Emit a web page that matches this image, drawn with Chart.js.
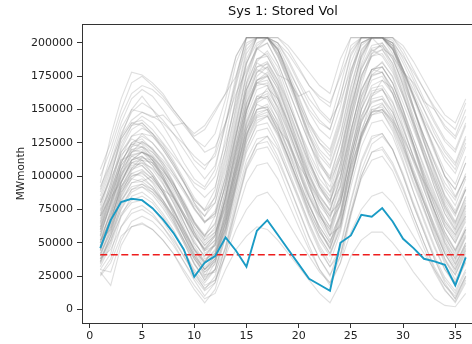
<!DOCTYPE html>
<html>
<head>
<meta charset="utf-8">
<script src="https://cdn.jsdelivr.net/npm/chart.js@4.4.1/dist/chart.umd.min.js"></script>
<style>
    html, body { margin: 0; padding: 0; background: #fff; overflow: hidden; }
    #wrap { width: 490px; height: 344px; }
</style>
</head>
<body>
<div id="wrap"><canvas id="storedChart" width="490" height="344"></canvas></div>
<script>
// Dados do gráfico
const months = [1,2,3,4,5,6,7,8,9,10,11,12,13,14,15,16,17,18,19,20,21,22,23,24,25,26,27,28,29,30,31,32,33,34,35,36];
const xTickValues = [0,5,10,15,20,25,30,35];
const yTickValues = [0,25000,50000,75000,100000,125000,150000,175000,200000];

// Traço destacado (azul)
const selectedRun = [46000,67000,80500,83000,82000,76000,67500,57500,45000,24500,35000,40000,54000,44000,32000,59000,67000,56000,45000,34000,23000,18500,14000,50000,55500,71000,69500,76000,66000,53000,46000,38000,36000,33500,18000,39000];

// Nível mínimo (linha vermelha tracejada)
const minLevel = 41000;

// Cenários (linhas cinzas)
const ensembleRuns = [
    [105000,125000,150000,170000,175000,168000,160000,150000,140000,132000,138000,150000,162000,190000,204000,204000,204000,200000,192000,180000,168000,160000,155000,175000,195000,204000,204000,204000,200000,190000,178000,165000,152000,142000,135000,155000],
    [80000,100000,130000,150000,160000,150000,138000,125000,110000,98000,92000,105000,140000,175000,204000,204000,204000,195000,180000,165000,150000,140000,135000,160000,190000,204000,204000,204000,195000,180000,165000,150000,135000,120000,110000,130000],
    [60000,85000,110000,125000,128000,120000,108000,95000,80000,65000,55000,70000,100000,140000,175000,195000,200000,185000,165000,145000,125000,110000,100000,125000,160000,190000,204000,204000,200000,180000,160000,140000,120000,100000,85000,100000],
    [45000,70000,95000,112000,115000,108000,95000,80000,62000,45000,35000,50000,80000,115000,150000,170000,175000,160000,140000,120000,100000,85000,75000,100000,135000,165000,180000,185000,175000,155000,135000,115000,95000,75000,60000,78000],
    [35000,55000,85000,100000,103000,95000,82000,68000,52000,35000,22000,35000,65000,100000,135000,155000,160000,145000,125000,105000,85000,68000,55000,80000,115000,145000,160000,165000,155000,135000,115000,95000,75000,55000,40000,58000],
    [50000,75000,105000,120000,118000,110000,98000,85000,70000,55000,45000,55000,90000,130000,165000,185000,180000,165000,145000,125000,105000,90000,80000,110000,150000,180000,195000,190000,178000,160000,140000,120000,100000,82000,70000,90000],
    [30000,42000,70000,85000,88000,82000,72000,60000,45000,28000,15000,25000,55000,90000,120000,140000,145000,130000,110000,90000,70000,52000,40000,62000,100000,130000,150000,152000,140000,120000,100000,80000,58000,38000,22000,40000],
    [70000,95000,120000,135000,140000,132000,120000,108000,95000,80000,70000,85000,120000,160000,195000,204000,204000,195000,178000,160000,140000,125000,115000,140000,175000,200000,204000,204000,198000,180000,160000,140000,120000,100000,90000,110000],
    [55000,80000,105000,115000,112000,102000,90000,75000,58000,42000,30000,40000,75000,110000,145000,165000,168000,152000,132000,112000,92000,75000,62000,88000,125000,155000,172000,175000,162000,142000,120000,98000,78000,58000,45000,62000],
    [40000,62000,90000,105000,108000,100000,88000,72000,55000,38000,25000,38000,70000,108000,142000,160000,158000,140000,120000,98000,78000,60000,45000,72000,110000,140000,158000,160000,148000,128000,105000,85000,62000,42000,28000,45000],
    [75000,100000,128000,140000,142000,135000,125000,115000,105000,95000,90000,100000,125000,155000,185000,200000,204000,192000,175000,158000,140000,128000,120000,145000,178000,200000,204000,204000,195000,178000,160000,142000,128000,115000,105000,125000],
    [65000,88000,112000,122000,125000,118000,108000,95000,80000,65000,52000,62000,95000,135000,170000,188000,190000,175000,155000,135000,115000,98000,88000,115000,152000,182000,198000,200000,188000,168000,145000,125000,105000,85000,72000,90000],
    [28000,18000,48000,62000,65000,60000,52000,42000,28000,15000,5000,15000,42000,75000,105000,120000,122000,108000,88000,68000,48000,30000,18000,35000,70000,100000,118000,120000,108000,90000,70000,50000,30000,15000,5000,20000],
    [90000,115000,140000,158000,165000,160000,150000,138000,125000,112000,105000,118000,150000,185000,204000,204000,204000,200000,188000,172000,158000,148000,140000,168000,198000,204000,204000,204000,204000,192000,175000,158000,142000,128000,120000,140000],
    [50000,68000,90000,100000,102000,96000,86000,74000,60000,46000,36000,45000,72000,105000,135000,150000,152000,138000,120000,102000,84000,70000,60000,82000,115000,142000,155000,158000,148000,130000,112000,92000,74000,56000,44000,60000],
    [45000,65000,95000,112000,118000,115000,105000,92000,78000,62000,50000,58000,82000,118000,155000,178000,185000,172000,152000,130000,110000,92000,80000,105000,142000,172000,190000,195000,185000,165000,142000,120000,98000,78000,62000,80000],
    [38000,55000,75000,88000,92000,88000,80000,70000,58000,45000,35000,42000,65000,95000,125000,142000,145000,132000,115000,95000,78000,62000,50000,72000,105000,132000,148000,150000,140000,122000,102000,82000,64000,46000,34000,50000],
    [85000,108000,132000,148000,155000,150000,142000,132000,120000,108000,98000,108000,138000,172000,204000,204000,204000,198000,182000,165000,148000,135000,128000,152000,185000,204000,204000,204000,200000,185000,168000,150000,132000,118000,108000,128000],
    [60000,82000,108000,118000,120000,112000,100000,85000,70000,55000,45000,52000,85000,122000,158000,178000,182000,168000,148000,128000,108000,92000,82000,108000,145000,175000,192000,195000,182000,162000,140000,118000,98000,78000,65000,85000],
    [52000,72000,98000,110000,112000,105000,94000,80000,65000,50000,40000,48000,78000,115000,150000,168000,170000,155000,135000,115000,95000,78000,68000,92000,128000,158000,175000,178000,165000,145000,124000,103000,84000,64000,52000,70000],
    [42000,60000,82000,95000,96000,90000,80000,68000,52000,38000,28000,36000,62000,98000,130000,148000,150000,135000,115000,95000,75000,58000,48000,70000,105000,135000,152000,155000,142000,122000,100000,80000,60000,42000,30000,48000],
    [70000,92000,118000,130000,132000,125000,115000,102000,90000,78000,70000,80000,112000,150000,185000,204000,204000,192000,172000,152000,132000,118000,108000,132000,168000,195000,204000,204000,196000,178000,158000,138000,118000,100000,90000,110000],
    [32000,48000,72000,82000,85000,80000,70000,58000,44000,30000,20000,30000,58000,92000,122000,138000,140000,125000,105000,85000,65000,48000,35000,58000,92000,122000,140000,142000,130000,110000,88000,68000,48000,30000,18000,35000],
    [55000,78000,102000,118000,122000,118000,110000,100000,88000,75000,65000,72000,98000,132000,165000,182000,186000,172000,155000,136000,118000,102000,92000,118000,152000,180000,196000,198000,188000,170000,150000,130000,112000,95000,84000,100000],
    [48000,70000,95000,108000,110000,102000,90000,76000,60000,44000,32000,40000,68000,102000,138000,158000,160000,146000,126000,106000,86000,70000,58000,80000,115000,145000,162000,165000,152000,132000,110000,90000,70000,50000,38000,55000],
    [100000,120000,145000,162000,168000,165000,158000,148000,138000,128000,122000,132000,158000,190000,204000,204000,204000,204000,195000,182000,168000,158000,152000,178000,204000,204000,204000,204000,204000,195000,180000,165000,150000,138000,130000,150000],
    [62000,85000,110000,125000,130000,125000,116000,104000,90000,76000,65000,74000,105000,142000,178000,196000,200000,185000,165000,145000,125000,108000,98000,125000,162000,190000,204000,204000,195000,175000,152000,130000,110000,90000,78000,98000],
    [36000,52000,80000,95000,98000,92000,82000,70000,55000,40000,30000,38000,65000,100000,132000,150000,152000,138000,118000,98000,78000,62000,50000,74000,110000,140000,156000,158000,145000,125000,103000,82000,62000,44000,32000,50000],
    [58000,80000,100000,112000,115000,108000,97000,84000,70000,56000,46000,55000,85000,120000,155000,172000,175000,160000,140000,120000,100000,84000,74000,98000,134000,164000,180000,182000,170000,150000,128000,108000,88000,68000,56000,74000],
    [78000,102000,125000,138000,140000,132000,122000,110000,96000,82000,74000,84000,115000,152000,188000,204000,204000,190000,170000,150000,130000,115000,106000,130000,166000,194000,204000,204000,192000,172000,150000,130000,110000,92000,82000,102000],
    [44000,64000,88000,102000,105000,98000,88000,75000,60000,45000,34000,42000,70000,106000,140000,158000,162000,148000,128000,108000,88000,72000,60000,84000,120000,150000,166000,168000,156000,136000,114000,94000,74000,54000,42000,60000],
    [68000,88000,108000,120000,122000,116000,106000,92000,78000,64000,55000,65000,95000,130000,165000,182000,184000,170000,150000,130000,110000,95000,85000,110000,146000,176000,190000,192000,180000,160000,138000,116000,96000,76000,64000,82000],
    [26000,38000,62000,75000,78000,72000,62000,50000,36000,22000,10000,20000,48000,82000,112000,128000,130000,115000,95000,75000,55000,38000,25000,48000,82000,112000,130000,132000,120000,100000,78000,58000,38000,20000,8000,25000],
    [92000,110000,130000,142000,148000,145000,140000,132000,124000,115000,108000,115000,140000,170000,200000,204000,204000,200000,186000,170000,154000,142000,135000,160000,192000,204000,204000,204000,202000,188000,172000,155000,140000,126000,118000,138000],
    [40000,58000,82000,92000,94000,88000,78000,66000,52000,38000,28000,34000,60000,95000,128000,145000,148000,134000,114000,94000,74000,58000,46000,68000,102000,132000,148000,150000,138000,118000,96000,76000,56000,38000,26000,44000],
    [72000,95000,122000,138000,145000,140000,130000,118000,105000,92000,84000,92000,120000,158000,192000,204000,204000,195000,176000,156000,136000,120000,112000,138000,174000,200000,204000,204000,198000,180000,160000,140000,122000,104000,94000,115000],
    [50000,74000,100000,115000,118000,112000,102000,88000,72000,56000,44000,52000,82000,118000,152000,170000,172000,158000,138000,118000,98000,82000,70000,94000,130000,160000,176000,178000,166000,146000,124000,102000,82000,62000,50000,68000],
    [34000,50000,76000,90000,92000,86000,76000,64000,50000,34000,22000,30000,58000,94000,126000,144000,146000,132000,112000,92000,72000,55000,42000,64000,98000,128000,146000,148000,136000,116000,94000,74000,54000,34000,20000,38000],
    [82000,105000,128000,140000,138000,130000,120000,108000,95000,82000,75000,90000,130000,168000,198000,204000,204000,190000,172000,155000,138000,125000,118000,142000,178000,204000,204000,204000,196000,180000,162000,145000,128000,112000,102000,122000],
    [46000,68000,92000,106000,110000,106000,98000,86000,72000,58000,48000,56000,84000,120000,154000,172000,176000,162000,142000,122000,102000,86000,74000,98000,134000,164000,180000,182000,170000,150000,128000,106000,86000,66000,54000,72000],
    [25000,35000,55000,62000,64000,60000,52000,42000,30000,18000,8000,12000,30000,45000,55000,62000,60000,52000,42000,32000,22000,12000,5000,20000,40000,52000,58000,58000,50000,40000,28000,18000,8000,3000,2000,12000],
    [38000,45000,62000,72000,75000,70000,62000,52000,40000,28000,18000,22000,40000,60000,75000,85000,88000,78000,65000,52000,40000,28000,20000,35000,58000,75000,85000,88000,80000,68000,55000,42000,30000,18000,10000,25000],
    [30000,28000,52000,66000,70000,66000,58000,48000,36000,24000,14000,20000,42000,70000,95000,108000,110000,98000,80000,62000,45000,30000,20000,40000,72000,98000,112000,115000,104000,86000,66000,46000,28000,14000,6000,22000],
    [95000,130000,158000,178000,176000,170000,162000,150000,140000,130000,135000,148000,162000,175000,204000,204000,204000,204000,198000,188000,178000,168000,162000,188000,204000,204000,204000,204000,204000,198000,186000,172000,158000,146000,140000,158000],
    [58000,78000,100000,118000,126000,121000,110000,96000,78000,58000,42000,48000,68000,105000,148000,175000,182000,168000,146000,120000,95000,72000,55000,70000,112000,150000,178000,186000,174000,150000,124000,98000,74000,52000,38000,56000],
    [66000,92000,118000,128000,124000,114000,100000,84000,66000,48000,36000,44000,72000,112000,150000,170000,168000,150000,128000,104000,80000,60000,46000,66000,108000,142000,164000,166000,150000,126000,100000,76000,54000,36000,26000,42000],
    [42000,58000,86000,104000,112000,110000,100000,86000,70000,52000,38000,42000,60000,92000,130000,156000,166000,158000,140000,118000,94000,72000,56000,62000,96000,132000,160000,172000,166000,146000,122000,96000,72000,50000,34000,48000],
    [74000,90000,112000,116000,118000,114000,104000,94000,82000,66000,54000,60000,88000,128000,170000,196000,204000,196000,176000,152000,126000,104000,88000,104000,146000,184000,204000,204000,200000,178000,152000,126000,102000,80000,66000,84000],
    [52000,66000,92000,102000,100000,92000,80000,66000,50000,34000,24000,30000,54000,86000,118000,134000,136000,122000,102000,82000,62000,44000,32000,46000,80000,110000,128000,132000,120000,100000,78000,58000,38000,22000,12000,28000],
    [62000,86000,104000,122000,132000,130000,122000,110000,96000,80000,66000,70000,92000,124000,162000,186000,194000,182000,160000,136000,112000,92000,78000,92000,132000,168000,192000,200000,190000,168000,142000,116000,92000,72000,58000,76000],
    [48000,62000,84000,98000,104000,98000,88000,74000,58000,42000,30000,36000,62000,96000,130000,150000,154000,142000,124000,104000,84000,66000,52000,64000,98000,128000,148000,154000,144000,124000,102000,80000,60000,42000,30000,46000],
    [56000,80000,110000,124000,122000,112000,98000,82000,66000,50000,40000,50000,84000,124000,160000,180000,176000,158000,136000,114000,92000,74000,62000,86000,126000,160000,180000,178000,162000,138000,114000,90000,68000,48000,36000,54000],
    [70000,84000,96000,110000,114000,110000,102000,90000,76000,62000,52000,58000,78000,108000,140000,160000,164000,152000,134000,114000,96000,80000,70000,84000,118000,150000,168000,172000,162000,144000,122000,100000,80000,62000,50000,66000],
    [36000,56000,78000,90000,94000,90000,82000,70000,56000,40000,26000,28000,46000,76000,106000,124000,130000,120000,102000,84000,64000,46000,32000,42000,74000,104000,124000,130000,120000,102000,80000,60000,40000,24000,14000,30000],
    [60000,82000,102000,112000,118000,114000,106000,94000,80000,66000,56000,64000,94000,132000,168000,188000,192000,178000,156000,134000,112000,94000,82000,100000,140000,174000,194000,198000,184000,162000,138000,114000,92000,72000,60000,78000],
    [54000,72000,96000,110000,108000,100000,88000,72000,56000,40000,30000,38000,66000,102000,136000,154000,150000,134000,114000,94000,72000,54000,42000,60000,98000,130000,150000,148000,134000,112000,88000,66000,46000,30000,20000,36000],
    [44000,66000,92000,106000,114000,112000,104000,92000,76000,58000,44000,48000,74000,110000,148000,172000,178000,166000,146000,124000,102000,82000,66000,78000,118000,154000,176000,182000,170000,148000,124000,100000,78000,58000,44000,60000],
    [80000,98000,116000,124000,126000,120000,112000,102000,90000,76000,66000,72000,100000,138000,176000,198000,204000,194000,174000,152000,130000,110000,96000,114000,154000,188000,204000,204000,196000,174000,150000,126000,104000,84000,72000,90000],
    [38000,52000,70000,80000,82000,76000,66000,54000,40000,26000,16000,22000,46000,78000,108000,124000,126000,112000,94000,74000,54000,38000,26000,40000,72000,100000,118000,122000,110000,92000,70000,50000,32000,18000,8000,24000],
    [64000,88000,114000,130000,136000,132000,124000,112000,98000,84000,74000,80000,108000,146000,184000,204000,204000,196000,176000,154000,132000,112000,98000,118000,158000,192000,204000,204000,198000,176000,152000,128000,106000,86000,74000,92000],
    [88000,110000,136000,150000,148000,144000,146000,138000,140000,128000,118000,122000,140000,162000,180000,196000,190000,176000,172000,160000,164000,150000,142000,156000,180000,198000,204000,196000,190000,178000,170000,156000,150000,136000,128000,145000],
    [52000,60000,88000,98000,96000,100000,90000,84000,72000,60000,48000,56000,76000,104000,132000,146000,150000,136000,126000,108000,96000,82000,72000,80000,108000,130000,146000,150000,142000,128000,112000,96000,82000,66000,56000,70000]
];

// Monta os pontos {x, y} a partir dos meses
function toPoints(values) {
    return values.map((v, i) => ({ x: months[i], y: v }));
}

const datasets = [];
datasets.push({
    data: toPoints(selectedRun),
    borderColor: '#1a9bc5',
    borderWidth: 1.9,
    pointRadius: 0,
    tension: 0,
    order: 0
});
datasets.push({
    data: [{ x: months[0], y: minLevel }, { x: months[months.length - 1], y: minLevel }],
    borderColor: '#ee1c1c',
    borderWidth: 1.6,
    borderDash: [7, 3.5],
    pointRadius: 0,
    order: 1
});
ensembleRuns.forEach(run => {
    datasets.push({
        data: toPoints(run),
        borderColor: 'rgba(135,135,135,0.27)',
        borderWidth: 1.1,
        pointRadius: 0,
        tension: 0,
        order: 2
    });
});

// Moldura em volta da área do gráfico (estilo matplotlib)
const framePlugin = {
    id: 'frame',
    afterDraw(chart) {
        const { ctx, chartArea: a } = chart;
        ctx.save();
        ctx.strokeStyle = '#333';
        ctx.lineWidth = 1;
        ctx.strokeRect(Math.round(a.left) + 0.5, Math.round(a.top) + 0.5,
            Math.round(a.right - a.left), Math.round(a.bottom - a.top));
        ctx.restore();
    }
};

const fontFamily = "'DejaVu Sans', sans-serif";

new Chart(document.getElementById('storedChart'), {
    type: 'line',
    data: { datasets },
    options: {
        responsive: false,
        animation: false,
        events: [],
        layout: { padding: { left: 0, right: 6, top: 0, bottom: 0 } },
        plugins: {
            legend: { display: false },
            tooltip: { enabled: false },
            title: {
                display: true,
                text: 'Sys 1: Stored Vol',
                fullSize: false,
                color: '#111',
                font: { family: fontFamily, size: 13, weight: 'normal' },
                padding: { top: 4, bottom: 4.4 }
            }
        },
        scales: {
            x: {
                type: 'linear',
                min: -0.75,
                max: 37.75,
                afterFit: s => { s.height = 21; },
                afterBuildTicks: s => { s.ticks = xTickValues.map(v => ({ value: v })); },
                border: { display: false },
                grid: { drawOnChartArea: false, drawTicks: true, tickLength: 5, tickColor: '#333', tickWidth: 1 },
                ticks: { color: '#222', padding: 2, font: { family: fontFamily, size: 11 }, maxRotation: 0 }
            },
            y: {
                type: 'linear',
                min: -10200,
                max: 214200,
                afterFit: s => { s.width = 82; },
                afterBuildTicks: s => { s.ticks = yTickValues.map(v => ({ value: v })); },
                border: { display: false },
                grid: { drawOnChartArea: false, drawTicks: true, tickLength: 5, tickColor: '#333', tickWidth: 1 },
                ticks: { color: '#222', padding: 4, font: { family: fontFamily, size: 11 }, callback: v => String(v) },
                title: {
                    display: true,
                    text: 'MWmonth',
                    color: '#222',
                    font: { family: fontFamily, size: 10.5 },
                    padding: { top: 15, bottom: 0 }
                }
            }
        }
    },
    plugins: [framePlugin]
});
</script>
</body>
</html>
